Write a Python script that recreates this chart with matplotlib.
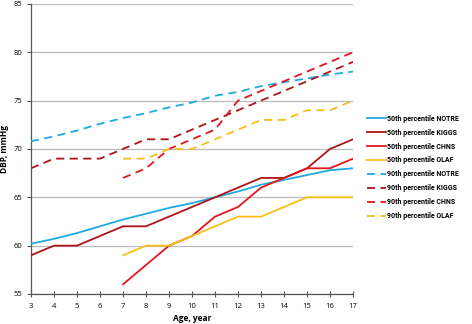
import matplotlib
matplotlib.use("Agg")
import matplotlib.pyplot as plt
from matplotlib import font_manager as fm

ages = list(range(3, 18))
ages7 = list(range(7, 18))

p50_notre = [60.2, 60.7, 61.3, 62.0, 62.7, 63.3, 63.9, 64.4, 65.0, 65.6, 66.3, 66.8, 67.3, 67.8, 68.0]
p50_kiggs = [59, 60, 60, 61, 62, 62, 63, 64, 65, 66, 67, 67, 68, 70, 71]
p50_chns = [56, 58, 60, 61, 63, 64, 66, 67, 68, 68, 69]
p50_olaf = [59, 60, 60, 61, 62, 63, 63, 64, 65, 65, 65]
p90_notre = [70.8, 71.3, 71.9, 72.6, 73.2, 73.7, 74.3, 74.8, 75.5, 75.9, 76.5, 76.9, 77.3, 77.7, 78.0]
p90_kiggs = [68, 69, 69, 69, 70, 71, 71, 72, 73, 74, 75, 76, 77, 78, 79]
p90_chns = [67, 68, 70, 71, 72, 75, 76, 77, 78, 79, 80]
p90_olaf = [69, 69, 70, 70, 71, 72, 73, 73, 74, 74, 75]

labels = ["50th percentile NOTRE", "50th percentile KIGGS", "50th percentile CHNS", "50th percentile OLAF",
          "90th percentile NOTRE", "90th percentile KIGGS", "90th percentile CHNS", "90th percentile OLAF"]

c_notre = "#1EAAE0"
c_kiggs = "#AC1418"
c_chns = "#E3161B"
c_olaf = "#F7BE1C"

plt.rcParams['font.family'] = ['Open Sans', 'DejaVu Sans']

names = {f.name for f in fm.fontManager.ttflist}
leg_family = ['Liberation Sans Narrow'] if 'Liberation Sans Narrow' in names else ['Roboto', 'DejaVu Sans']
leg_size = 6.3 if 'Liberation Sans Narrow' in names else 5.0

fig = plt.figure(figsize=(4.72, 3.24), dpi=100)
ax = fig.add_axes([0.0657, 0.0926, 0.6823, 0.8954])

lw = 1.3
dash = (0, (4.5, 3))
series = [
    (ages, p50_notre, c_notre, '-'),
    (ages, p50_kiggs, c_kiggs, '-'),
    (ages7, p50_chns, c_chns, '-'),
    (ages7, p50_olaf, c_olaf, '-'),
    (ages, p90_notre, c_notre, dash),
    (ages, p90_kiggs, c_kiggs, dash),
    (ages7, p90_chns, c_chns, dash),
    (ages7, p90_olaf, c_olaf, dash),
]
for (x, y, c, ls), lab in zip(series, labels):
    ax.plot(x, y, color=c, linestyle=ls, linewidth=lw, label=lab, zorder=3)

ax.set_xlim(3, 17)
ax.set_ylim(55, 85)
ax.set_xticks(ages)
ax.set_yticks([55, 60, 65, 70, 75, 80, 85])
ax.grid(axis='y', color='#BBBBBB', linewidth=0.9, zorder=0)
ax.set_axisbelow(True)
for s in ['top', 'right']:
    ax.spines[s].set_visible(False)
ax.spines['left'].set_color('#555555')
ax.spines['bottom'].set_color('#555555')
ax.spines['left'].set_linewidth(0.9)
ax.spines['bottom'].set_linewidth(0.9)
ax.tick_params(axis='x', direction='inout', length=5, width=0.8, color='#555555', labelsize=5.5, pad=4)
ax.tick_params(axis='y', direction='out', length=3, width=0.8, color='#555555', labelsize=5.5, pad=3)

ax.set_xlabel("Age, year", fontsize=6, fontweight='bold', labelpad=3)
ax.set_ylabel("DBP, mmHg", fontsize=6, fontweight='bold')
ax.yaxis.set_label_coords(-0.068, 0.5)

leg = fig.legend(loc='upper left', bbox_to_anchor=(0.765, 0.665), frameon=False,
                 prop={'weight': 'bold', 'size': leg_size, 'family': leg_family}, handlelength=2.7,
                 handletextpad=0.2, labelspacing=0.85)

fig.savefig("out.png", dpi=100)
